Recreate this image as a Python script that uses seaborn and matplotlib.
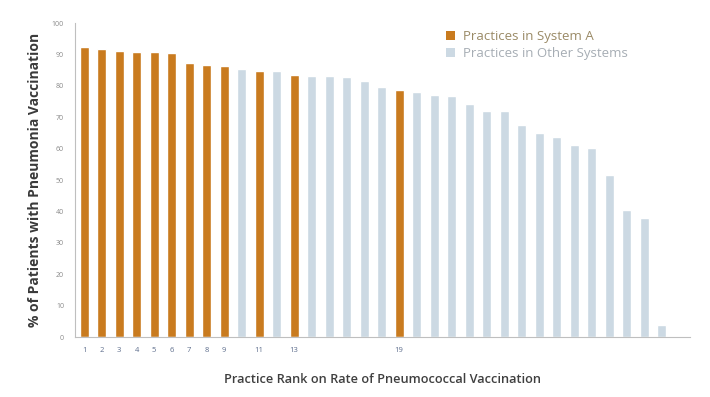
import matplotlib
matplotlib.use("Agg")
import matplotlib.pyplot as plt
from matplotlib.patches import Patch
import seaborn as sns
import pandas as pd

# Practice ranks and vaccination rates (%)
ranks = list(range(1, 35))
rates = [92.4, 91.6, 91.2, 90.9, 90.8, 90.3, 87.4, 86.5, 86.4, 85.4,
         84.7, 84.6, 83.4, 83.1, 83.1, 82.8, 81.4, 79.6, 78.8, 78.0,
         77.0, 76.9, 74.3, 71.9, 71.9, 67.6, 65.0, 63.7, 61.3, 60.2,
         51.6, 40.4, 37.8, 3.7]
system_a_ranks = [1, 2, 3, 4, 5, 6, 7, 8, 9, 11, 13, 19]
group_labels = ["Practices in System A", "Practices in Other Systems"]
colors = {"Practices in System A": "#C97B1F",
          "Practices in Other Systems": "#CCD9E3"}
y_ticks = list(range(0, 101, 10))

df = pd.DataFrame({
    "rank": [str(r) for r in ranks],
    "rate": rates,
    "group": [group_labels[0] if r in system_a_ranks else group_labels[1] for r in ranks],
})

sns.set_theme(style="white")
plt.rcParams["font.family"] = ["Open Sans", "DejaVu Sans"]

fig = plt.figure(figsize=(7.10, 3.97), dpi=100)
ax = fig.add_axes([0.106, 0.151, 0.866, 0.791])

sns.barplot(data=df, x="rank", y="rate", hue="group", order=df["rank"],
            hue_order=group_labels, palette=colors, dodge=False,
            width=0.52, saturation=1, legend=False, ax=ax)

ax.set_xlim(-0.51, 34.63)
ax.set_ylim(0, 100)
ax.set_yticks(y_ticks)
ax.set_yticklabels([str(t) for t in y_ticks], fontsize=5, color="#8a8a8a")
ax.set_xticks(range(len(ranks)))
ax.set_xticklabels([str(r) if r in system_a_ranks else "" for r in ranks],
                   fontsize=5.5, color="#5d6d8c")
ax.tick_params(axis="y", length=3, width=0.6, color="#bbbbbb", pad=5)
ax.tick_params(axis="x", length=0, pad=7)

for side in ["top", "right"]:
    ax.spines[side].set_visible(False)
for side in ["left", "bottom"]:
    ax.spines[side].set_color("#bfbfbf")
    ax.spines[side].set_linewidth(0.8)

ax.set_ylabel("% of Patients with Pneumonia Vaccination", fontsize=10,
              fontweight="bold", color="#3a3a3a", labelpad=7)
ax.set_xlabel("Practice Rank on Rate of Pneumococcal Vaccination", fontsize=9.2,
              fontweight="semibold", color="#3f3f3f", labelpad=13.5)

handles = [Patch(facecolor=colors[g], edgecolor="none") for g in group_labels]
leg = ax.legend(handles, group_labels, loc="upper left",
                bbox_to_anchor=(0.583, 1.015), frameon=False, fontsize=9.5,
                handlelength=0.7, handleheight=0.6, handletextpad=0.65,
                labelspacing=0.3, borderpad=0.4)
leg.get_texts()[0].set_color("#9a8a66")
leg.get_texts()[1].set_color("#a6adb4")

fig.savefig("out.png", dpi=100)
